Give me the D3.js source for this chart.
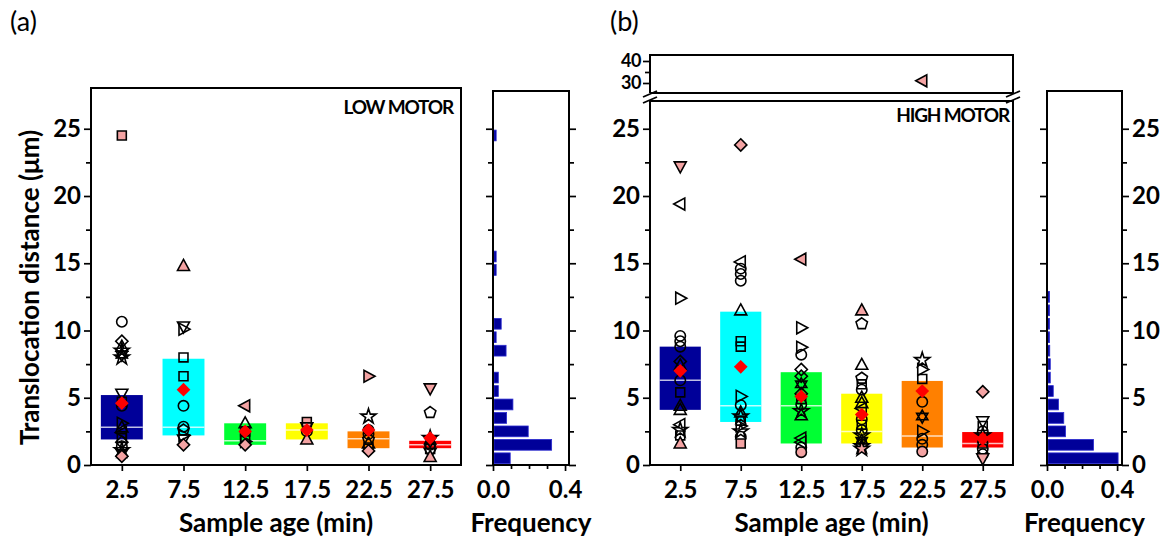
<!DOCTYPE html>
<html>
<head>
<meta charset="utf-8">
<script src="https://cdn.jsdelivr.net/npm/d3@7"></script>
<style>
body { margin: 0; background: #fff; }
text { font-family: Lato, "Open Sans", sans-serif; }
</style>
</head>
<body>
<svg id="fig" width="1171" height="541"></svg>
<script>
// ---- data ----
var ages = [2.5, 7.5, 12.5, 17.5, 22.5, 27.5];
var ageLabels = ["2.5", "7.5", "12.5", "17.5", "22.5", "27.5"];
var boxColors = ["#000099", "#00ffff", "#00ff33", "#ffff00", "#ff8000", "#ff0000"];
var yTicks = [0, 5, 10, 15, 20, 25];
var yMinor = [2.5, 7.5, 12.5, 17.5, 22.5];
var brokenTicks = [30, 40];
var freqTicks = [0, 0.4];
var freqMinor = [0.1, 0.2, 0.3];

// low motor
var lowQ1 = [1.9, 2.2, 1.5, 1.9, 1.25, 1.25];
var lowMedian = [2.8, 2.8, 1.8, 2.6, 1.95, 1.5];
var lowQ3 = [5.2, 7.9, 3.1, 3.1, 2.5, 1.8];
var lowMean = [4.6, 5.6, 2.5, 2.6, 2.6, 2.0];
var lowPoints = [
    [[24.5,"sq"],[10.65,"ci"],[9.2,"di"],[8.8,"tu"],[8.5,"st"],[8.2,"hx"],[8.0,"st"],[5.3,"td"],[4.7,"sq"],[4.4,"ci"],
     [3.1,"tr"],[2.8,"tu"],[2.4,"tl"],[2.0,"sq"],[1.7,"di"],[1.4,"ci"],[1.1,"st"],[0.9,"hx"],[0.65,"di"]],
    [[14.8,"tu"],[10.3,"td"],[10.1,"tr"],[8.0,"sq"],[6.6,"sq"],[4.4,"ci"],[2.85,"ci"],[2.6,"pe"],[2.2,"tr"],[1.9,"td"],[1.5,"di"]],
    [[4.4,"tl"],[3.1,"tu"],[2.5,"sq"],[2.1,"sq"],[1.75,"tr"],[1.5,"di"]],
    [[3.2,"sq"],[2.8,"td"],[2.5,"ci"],[1.9,"tu"]],
    [[6.6,"tr"],[3.6,"st"],[2.6,"ci"],[2.3,"ci"],[1.9,"pe"],[1.6,"tu"],[1.3,"sq"],[1.05,"di"]],
    [[5.7,"td"],[3.9,"pe"],[2.0,"st"],[1.8,"hx"],[1.5,"ci"],[1.2,"sq"],[0.9,"td"],[0.6,"tu"]]
];
// histogram, bins of 1 um starting at 0
var lowFreq = [0.09, 0.32, 0.19, 0.07, 0.105, 0.024, 0.024, 0, 0.067, 0.012, 0.04, 0, 0, 0, 0.012, 0.012,
               0, 0, 0, 0, 0, 0, 0, 0, 0.012];

// high motor
var highQ1 = [4.1, 3.2, 1.6, 1.6, 1.3, 1.3];
var highMedian = [6.3, 4.4, 4.4, 2.5, 2.15, 1.6];
var highQ3 = [8.8, 11.4, 6.9, 5.3, 6.25, 2.45];
var highMean = [7.0, 7.3, 5.1, 3.75, 5.5, 1.95];
var highPoints = [
    [[22.2,"td"],[19.4,"tl"],[12.4,"tr"],[9.6,"ci"],[9.2,"ci"],[8.8,"ci"],[7.7,"di"],[7.4,"tu"],[6.3,"ci"],[5.4,"sq"],
     [4.4,"tu"],[4.1,"tu"],[3.0,"tl"],[2.6,"st"],[2.2,"sq"],[1.6,"tu"]],
    [[23.8,"di"],[15.1,"tl"],[14.6,"ci"],[14.2,"ci"],[13.7,"ci"],[11.5,"tu"],[9.2,"sq"],[8.8,"sq"],[5.1,"tr"],[4.45,"ci"],
     [3.9,"tu"],[3.6,"st"],[3.3,"sq"],[2.9,"tr"],[2.5,"st"],[2.1,"ci"],[1.6,"sq"]],
    [[15.3,"tl"],[10.2,"tr"],[8.75,"tr"],[8.2,"ci"],[7.1,"di"],[6.6,"di"],[6.0,"hx"],[5.3,"di"],[4.9,"sq"],[4.5,"ci"],
     [4.0,"st"],[3.7,"tu"],[2.0,"tl"],[1.7,"tl"],[1.3,"ci"],[0.95,"ci"]],
    [[11.5,"tu"],[10.5,"pe"],[7.45,"tu"],[6.45,"pe"],[6.0,"sq"],[5.6,"ci"],[5.0,"tu"],[4.6,"tu"],[4.2,"tl"],[3.4,"ci"],
     [3.0,"sq"],[2.6,"ci"],[2.2,"st"],[1.8,"hx"],[1.4,"st"],[1.2,"st"]],
    [[31,"tl"],[7.8,"st"],[7.1,"tr"],[6.4,"sq"],[4.7,"ci"],[3.6,"hx"],[2.5,"tr"],[1.95,"ci"],[1.5,"ci"],[1.0,"ci"]],
    [[5.45,"di"],[3.25,"td"],[2.9,"sq"],[2.5,"ci"],[2.2,"st"],[1.6,"sq"],[1.2,"ci"],[0.8,"ci"],[0.5,"td"]]
];
var highFreq = [0.40, 0.26, 0.10, 0.09, 0.06, 0.03, 0.013, 0.013, 0.01, 0.005, 0.003, 0.003, 0.003];

// ---- layout ----
var svg = d3.select("#fig");
var yBase = 465, y25 = 128.75;
var y = d3.scaleLinear().domain([0, 25]).range([yBase, y25]);
var yTop = d3.scaleLinear().domain([30, 40]).range([83, 61]);
var FS = 24, TS = 26;

function shapePath(s) {
    switch (s) {
        case "ci": return d3.symbol(d3.symbolCircle, 85)();
        case "sq": return d3.symbol(d3.symbolSquare, 80)();
        case "di": return d3.symbol(d3.symbolDiamond2, 95)();
        case "st": return d3.symbol(d3.symbolStar, 70)();
        case "tu": return "M0,-6.5L6,4.5L-6,4.5Z";
        case "td": return "M0,6.5L6,-4.5L-6,-4.5Z";
        case "tl": return "M-6.5,0L4.5,-6L4.5,6Z";
        case "tr": return "M6.5,0L-4.5,-6L-4.5,6Z";
        case "pe":
            var p = d3.range(5).map(function(k) {
                var a = -Math.PI / 2 + k * 2 * Math.PI / 5;
                return [6 * Math.cos(a), 6 * Math.sin(a)];
            });
            return "M" + p.join("L") + "Z";
        case "hx":
            return "M0,-6.5L5.6,3.2L-5.6,3.2Z M0,6.5L5.6,-3.2L-5.6,-3.2Z";
    }
}

function label(x, yy, txt, anchor, size, weight) {
    return svg.append("text")
        .attr("x", x).attr("y", yy)
        .attr("text-anchor", anchor || "middle")
        .attr("font-size", size || TS)
        .attr("font-weight", weight || "bold")
        .text(txt);
}

function styleAxis(g) {
    g.select(".domain").remove();
    g.selectAll("line").attr("stroke", "#000").attr("stroke-width", 1.7);
    g.selectAll("text").attr("font-size", FS).attr("font-weight", "bold")
        .attr("font-family", "Lato, 'Open Sans', sans-serif").attr("fill", "#000");
}

function yAxisAt(xpos, side, withLabels) {
    var maj = (side == "left" ? d3.axisLeft(y) : d3.axisRight(y)).tickValues(yTicks).tickSize(7).tickPadding(3);
    if (!withLabels) maj.tickFormat("");
    var mnr = (side == "left" ? d3.axisLeft(y) : d3.axisRight(y)).tickValues(yMinor).tickSize(5).tickFormat("");
    svg.append("g").attr("transform", "translate(" + xpos + ",0)").call(maj).call(styleAxis);
    svg.append("g").attr("transform", "translate(" + xpos + ",0)").call(mnr).call(styleAxis);
}

function frame(x0, y0, x1, y1) {
    svg.append("rect").attr("x", x0).attr("y", y0).attr("width", x1 - x0).attr("height", y1 - y0)
        .attr("fill", "none").attr("stroke", "#000").attr("stroke-width", 2);
}

function boxPanel(x0, x1, q1, med, q3, mean, pts) {
    var x = d3.scaleLinear().domain([0, 30]).range([x0, x1]);
    var g = svg.append("g");
    g.selectAll("rect.box").data(ages).enter().append("rect")
        .attr("class", "box")
        .attr("x", function(d) { return x(d - 1.7); })
        .attr("width", function(d) { return x(d + 1.7) - x(d - 1.7); })
        .attr("y", function(d, i) { return y(q3[i]); })
        .attr("height", function(d, i) { return y(q1[i]) - y(q3[i]); })
        .attr("fill", function(d, i) { return boxColors[i]; });
    g.selectAll("line.med").data(ages).enter().append("line")
        .attr("x1", function(d) { return x(d - 1.7); })
        .attr("x2", function(d) { return x(d + 1.7); })
        .attr("y1", function(d, i) { return y(med[i]); })
        .attr("y2", function(d, i) { return y(med[i]); })
        .attr("stroke", "#fff").attr("stroke-opacity", 0.75).attr("stroke-width", 1.5);

    pts.forEach(function(grp, i) {
        var vals = grp.map(function(p) { return p[0]; });
        var hi = d3.max(vals), lo = d3.min(vals);
        g.selectAll(null).data(grp).enter().append("path")
            .attr("d", function(p) { return shapePath(p[1]); })
            .attr("transform", function(p) {
                var py = p[0] > 27 ? yTop(p[0]) : y(p[0]);
                return "translate(" + x(ages[i]) + "," + py + ")";
            })
            .attr("fill", function(p) { return (p[0] == hi || p[0] == lo) ? "#f4a3a3" : "none"; })
            .attr("stroke", "#000").attr("stroke-width", 1.6);
    });

    g.selectAll("path.mean").data(ages).enter().append("path")
        .attr("d", d3.symbol(d3.symbolDiamond2, 120)())
        .attr("transform", function(d, i) { return "translate(" + x(d) + "," + y(mean[i]) + ")"; })
        .attr("fill", "#ff0000");

    var ax = d3.axisBottom(x).tickValues(ages).tickSize(6).tickPadding(4)
        .tickFormat(function(d, i) { return ageLabels[i]; });
    svg.append("g").attr("transform", "translate(0," + yBase + ")").call(ax).call(styleAxis)
        .selectAll("text").attr("dy", "0.95em");
    yAxisAt(x0, "left", true);
    label((x0 + x1) / 2, 532, "Sample age (min)");
}

function histPanel(x0, x1, top, freq, labelsRight) {
    var hx = d3.scaleLinear().domain([0, 0.4]).range([x0, x0 + (x1 - x0) * 0.4 / (labelsRight ? 0.428 : 0.422)]);
    var bins = freq.map(function(f, i) { return {bin: i, f: f}; }).filter(function(d) { return d.f > 0; });
    svg.append("g").selectAll("rect").data(bins).enter().append("rect")
        .attr("x", hx(0) + 1)
        .attr("y", function(d) { return y(d.bin + 0.9); })
        .attr("height", y(0.1) - y(0.9))
        .attr("width", function(d) { return Math.max(1.5, hx(d.f) - hx(0)); })
        .attr("fill", "#000099").attr("stroke", "#2a2ad0").attr("stroke-width", 0.8);
    frame(x0, top, x1, yBase);
    yAxisAt(x0, "left", false);
    yAxisAt(x1, "right", labelsRight);
    var ax = d3.axisBottom(hx).tickValues(freqTicks).tickSize(6).tickPadding(4).tickFormat(d3.format(".1f"));
    var axm = d3.axisBottom(hx).tickValues(freqMinor).tickSize(4).tickFormat("");
    svg.append("g").attr("transform", "translate(0," + yBase + ")").call(ax).call(styleAxis)
        .selectAll("text").attr("dy", "0.95em");
    svg.append("g").attr("transform", "translate(0," + yBase + ")").call(axm).call(styleAxis);
    label((x0 + x1) / 2, 532, "Frequency");
}

// ---- panel (a) ----
label(10, 31, "(a)", "start", 27, "normal");
boxPanel(91, 461, lowQ1, lowMedian, lowQ3, lowMean, lowPoints);
frame(91, 88, 461, yBase);
label(453, 114, "LOW MOTOR", "end", 19, "bold").attr("letter-spacing", -1.2);
histPanel(493, 569, 91, lowFreq, false);
var yMid = (yBase + 110) / 2;
label(39, yMid, "Translocation distance (\u03bcm)", "middle")
    .attr("transform", "rotate(-90,39," + yMid + ")");

// ---- panel (b) ----
label(610, 31, "(b)", "start", 27, "normal");
// upper section of the broken axis
svg.append("path").attr("d", "M650,93V55H1013V93").attr("fill", "none").attr("stroke", "#000").attr("stroke-width", 2);
svg.append("line").attr("x1", 650).attr("x2", 1013).attr("y1", 93).attr("y2", 93).attr("stroke", "#000").attr("stroke-width", 2);
var axTop = d3.axisLeft(yTop).tickValues(brokenTicks).tickSize(7).tickPadding(2);
svg.append("g").attr("transform", "translate(650,0)").call(axTop).call(styleAxis)
    .selectAll("text").attr("font-size", 18).attr("letter-spacing", -0.5);
svg.append("g").attr("transform", "translate(650,0)")
    .call(d3.axisLeft(yTop).tickValues([35]).tickSize(5).tickFormat("")).call(styleAxis);
boxPanel(650, 1013, highQ1, highMedian, highQ3, highMean, highPoints);
svg.append("path").attr("d", "M650,101V" + yBase + "H1013V101H650").attr("fill", "none").attr("stroke", "#000").attr("stroke-width", 2);
// break marks
[650, 1013].forEach(function(bx) {
    [94, 100].forEach(function(by) {
        svg.append("line").attr("x1", bx - 7).attr("y1", by + 3).attr("x2", bx + 7).attr("y2", by - 3)
            .attr("stroke", "#000").attr("stroke-width", 1.8);
    });
});
label(1009, 122, "HIGH MOTOR", "end", 19, "bold").attr("letter-spacing", -1.2);
histPanel(1047, 1122, 91, highFreq, true);
</script>
</body>
</html>
